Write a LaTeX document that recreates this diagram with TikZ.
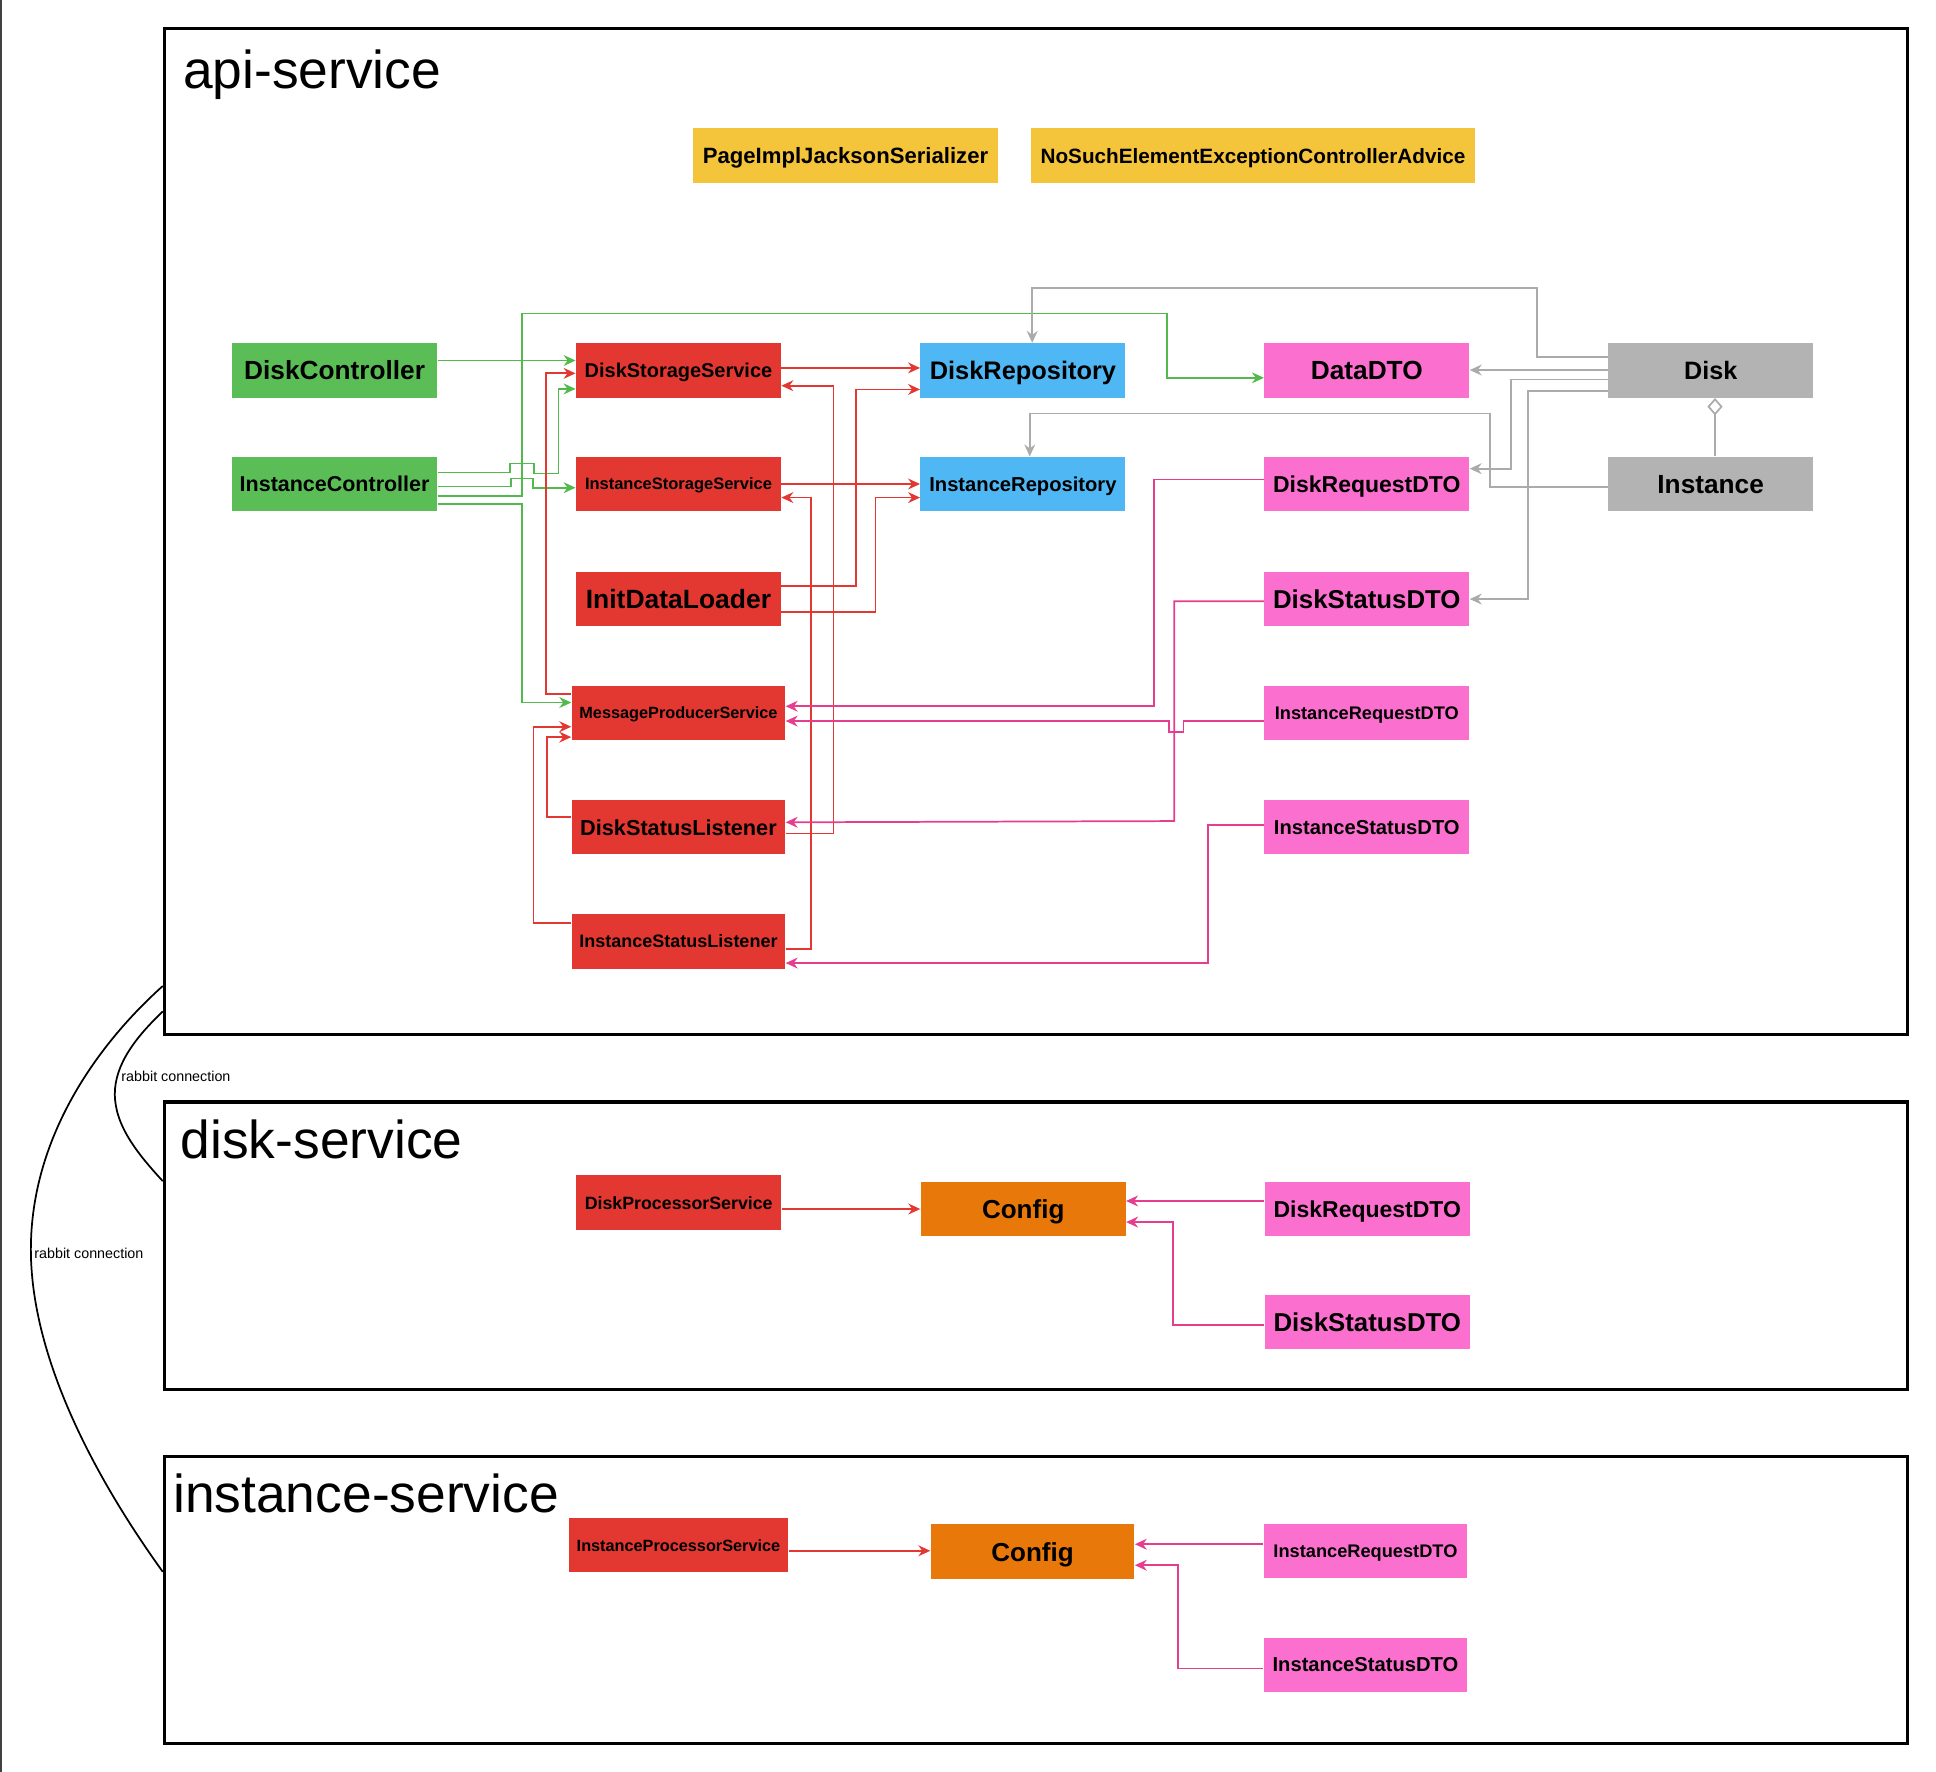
\documentclass[tikz,border=0pt]{standalone}
\usepackage{fontspec}
\setmainfont{Liberation Sans}
\usetikzlibrary{arrows.meta}
\definecolor{ctlgreen}{HTML}{5BBD56}
\definecolor{srvred}{HTML}{E33831}
\definecolor{repoblue}{HTML}{4FB7F3}
\definecolor{dtopink}{HTML}{FB70CF}
\definecolor{entgray}{HTML}{B3B3B3}
\definecolor{cfgorange}{HTML}{E8780A}
\definecolor{advyellow}{HTML}{F4C43A}
\definecolor{linkgreen}{HTML}{52B94C}
\definecolor{linkpink}{HTML}{E63E8E}
\definecolor{linkgray}{HTML}{ABABAB}
\begin{document}
\begin{tikzpicture}[x=0.02cm, y=-0.02cm,
    box/.style={minimum width=3.32cm, minimum height=0.88cm, inner sep=0pt, text depth=0pt, font=\bfseries\fontsize{#1pt}{#1pt}\selectfont},
    controller/.style={box=#1, fill=ctlgreen},
    service/.style={box=#1, fill=srvred},
    repository/.style={box=#1, fill=repoblue},
    dto/.style={box=#1, fill=dtopink},
    entity/.style={box=#1, fill=entgray},
    configbox/.style={box=#1, fill=cfgorange},
    advice/.style={box=#1, fill=advyellow},
    microservice/.style={draw, line width=1.5pt},
    svctitle/.style={anchor=base west, inner sep=0pt, font=\fontsize{24.6pt}{24.6pt}\selectfont},
    rabbit/.style={anchor=west, inner sep=0pt, font=\fontsize{6.6pt}{6.6pt}\selectfont},
    conn/.style={line width=0.8pt, -{Stealth[length=5.5pt, width=5pt]}},
    glink/.style={conn, draw=linkgreen},
    rlink/.style={conn, draw=srvred},
    plink/.style={conn, draw=linkpink},
    graylink/.style={conn, draw=linkgray}]
    \useasboundingbox (0,0) rectangle (1568,1435);
    \draw[line width=1pt, black!75] (1,0) -- (1,1435);

    % the three services
    \node (api) at (839, 430.5) [microservice, minimum width=28.24cm, minimum height=16.3cm] {};
    \node (disksvc) at (839, 1009) [microservice, minimum width=28.24cm, minimum height=4.66cm] {};
    \node (instsvc) at (839, 1295.75) [microservice, minimum width=28.24cm, minimum height=4.65cm] {};
    \node (apititle) at (148, 71.6) [svctitle] {api-service};
    \node (disktitle) at (146, 938.5) [svctitle] {disk-service};
    \node (insttitle) at (140, 1225) [svctitle] {instance-service};

    % api-service
    \node (pij) at (684.8, 126) [advice=10.2, minimum width=4.94cm] {PageImplJacksonSerializer};
    \node (nse) at (1014.8, 126) [advice=9.55, minimum width=7.18cm] {NoSuchElementExceptionControllerAdvice};
    \node (dc) at (271, 300) [controller=12.1] {DiskController};
    \node (ic) at (271, 392) [controller=9.9] {InstanceController};
    \node (dss) at (549.5, 300) [service=9.2] {DiskStorageService};
    \node (iss) at (549.5, 392) [service=7.6] {InstanceStorageService};
    \node (idl) at (549.5, 485) [service=12.2] {InitDataLoader};
    \node (mps) at (549.5, 577.5) [service=7.5, minimum width=3.46cm] {MessageProducerService};
    \node (dsl) at (549.5, 670) [service=10, minimum width=3.46cm] {DiskStatusListener};
    \node (isl) at (549.5, 762.5) [service=8.3, minimum width=3.46cm] {InstanceStatusListener};
    \node (dr) at (828.5, 300) [repository=11.7] {DiskRepository};
    \node (ir) at (828.5, 392) [repository=9.3] {InstanceRepository};
    \node (data) at (1107, 300) [dto=12.1] {DataDTO};
    \node (dreq) at (1107, 392) [dto=10.6] {DiskRequestDTO};
    \node (dstat) at (1107, 485) [dto=11.9] {DiskStatusDTO};
    \node (ireq) at (1107, 577.5) [dto=8.4] {InstanceRequestDTO};
    \node (istat) at (1107, 670) [dto=9.3] {InstanceStatusDTO};
    \node (disk) at (1385.5, 300) [entity=11.6] {Disk};
    \node (instance) at (1385.5, 392) [entity=12.1] {Instance};

    % disk-service
    \node (dps) at (549.7, 974) [service=8.2] {DiskProcessorService};
    \node (cfgd) at (828.7, 979) [configbox=12] {Config};
    \node (dreq2) at (1107.4, 979) [dto=10.6] {DiskRequestDTO};
    \node (dstat2) at (1107.4, 1070.5) [dto=11.9] {DiskStatusDTO};

    % instance-service
    \node (ips) at (549.5, 1251.5) [service=7.5, minimum width=3.56cm] {InstanceProcessorService};
    \node (cfgi) at (836.3, 1256.7) [configbox=12, minimum width=3.3cm] {Config};
    \node (ireq2) at (1105.9, 1256) [dto=8.4, minimum width=3.3cm] {InstanceRequestDTO};
    \node (istat2) at (1105.9, 1348.4) [dto=9.3, minimum width=3.3cm] {InstanceStatusDTO};

    % controllers
    \draw[glink] (dc.east |- 0,292) -- (dss.west |- 0,292);
    \draw[glink] (ic.east |- 0,382.6) -- (413,382.6) -- (413,375.3) -- (432.5,375.3) -- (432.5,383.4) -- (452.4,383.4) -- (452.4,315) -- (dss.west |- 0,315);
    \draw[glink] (ic.east |- 0,394) -- (414,394) -- (414,387.5) -- (431.5,387.5) -- (431.5,395) -- (iss.west |- 0,395);
    \draw[glink] (ic.east |- 0,401.5) -- (423,401.5) -- (423,254) -- (945,254) -- (945,306) -- (data.west |- 0,306);
    \draw[glink] (ic.east |- 0,408) -- (423,408) -- (423,569) -- (mps.west |- 0,569);

    % services
    \draw[rlink] (dss.east |- 0,298) -- (dr.west |- 0,298);
    \draw[rlink] (iss.east |- 0,392) -- (ir.west |- 0,392);
    \draw[rlink] (idl.east |- 0,474.4) -- (693.5,474.4) -- (693.5,315.4) -- (dr.west |- 0,315.4);
    \draw[rlink] (idl.east |- 0,495.5) -- (709,495.5) -- (709,403) -- (ir.west |- 0,403);
    \draw[rlink] (mps.west |- 0,562) -- (442,562) -- (442,302.4) -- (dss.west |- 0,302.4);
    \draw[rlink] (dsl.west |- 0,661.5) -- (443,661.5) -- (443,597) -- (mps.west |- 0,597);
    \draw[rlink] (isl.west |- 0,747.4) -- (432,747.4) -- (432,588.6) -- (mps.west |- 0,588.6);
    \draw[rlink] (dsl.east |- 0,675) -- (675,675) -- (675,312.4) -- (dss.east |- 0,312.4);
    \draw[rlink] (isl.east |- 0,768.7) -- (657,768.7) -- (657,403) -- (iss.east |- 0,403);

    % dtos
    \draw[plink] (dreq.west |- 0,388.3) -- (934.5,388.3) -- (934.5,572) -- (mps.east |- 0,572);
    \draw[plink] (ireq.west |- 0,584) -- (958.5,584) -- (958.5,593) -- (947,593) -- (947,584) -- (mps.east |- 0,584);
    \draw[plink] (dstat.west |- 0,487) -- (951,487) -- (951,665) -- (dsl.east |- 0,666);
    \draw[plink] (istat.west |- 0,668) -- (978.6,668) -- (978.6,780) -- (isl.east |- 0,780);

    % entities
    \draw[graylink] (disk.west |- 0,289) -- (1245,289) -- (1245,233.5) -- (836,233.5) -- (836,0 |- dr.north);
    \draw[graylink] (disk.west |- 0,299.7) -- (data.east |- 0,299.7);
    \draw[graylink] (disk.west |- 0,307.3) -- (1223.6,307.3) -- (1223.6,379.6) -- (dreq.east |- 0,379.6);
    \draw[graylink] (disk.west |- 0,316.4) -- (1237.4,316.4) -- (1237.4,485.2) -- (dstat.east |- 0,485.2);
    \draw[graylink] (instance.west |- 0,394.2) -- (1207,394.2) -- (1207,335) -- (834,335) -- (834,0 |- ir.north);
    \draw[line width=0.8pt, draw=linkgray, -{Diamond[open, length=8pt, width=7pt]}] (1389,0 |- instance.north) -- (1389,0 |- disk.south);

    % disk-service and instance-service
    \draw[rlink] (dps.east |- 0,979.2) -- (cfgd.west |- 0,979.2);
    \draw[plink] (dreq2.west |- 0,972.7) -- (cfgd.east |- 0,972.7);
    \draw[plink] (dstat2.west |- 0,1073.3) -- (950,1073.3) -- (950,989.8) -- (cfgd.east |- 0,989.8);
    \draw[rlink] (ips.east |- 0,1256) -- (cfgi.west |- 0,1256);
    \draw[plink] (ireq2.west |- 0,1250.7) -- (cfgi.east |- 0,1250.7);
    \draw[plink] (istat2.west |- 0,1351.3) -- (954,1351.3) -- (954,1267.7) -- (cfgi.east |- 0,1267.7);

    % rabbit connections
    \draw[line width=0.8pt] (api.west |- 0,819.2) .. controls (110,840) and (93,862) .. (93,886) .. controls (93,912) and (112,935) .. (disksvc.west |- 0,956.6);
    \draw[line width=0.8pt] (api.west |- 0,798.6) .. controls (80,845) and (25,920) .. (25,1012) .. controls (25,1110) and (90,1215) .. (instsvc.west |- 0,1273);
    \node (rabbit1) at (98,871.6) [rabbit] {rabbit connection};
    \node (rabbit2) at (27.5,1015.2) [rabbit] {rabbit connection};
\end{tikzpicture}
\end{document}
